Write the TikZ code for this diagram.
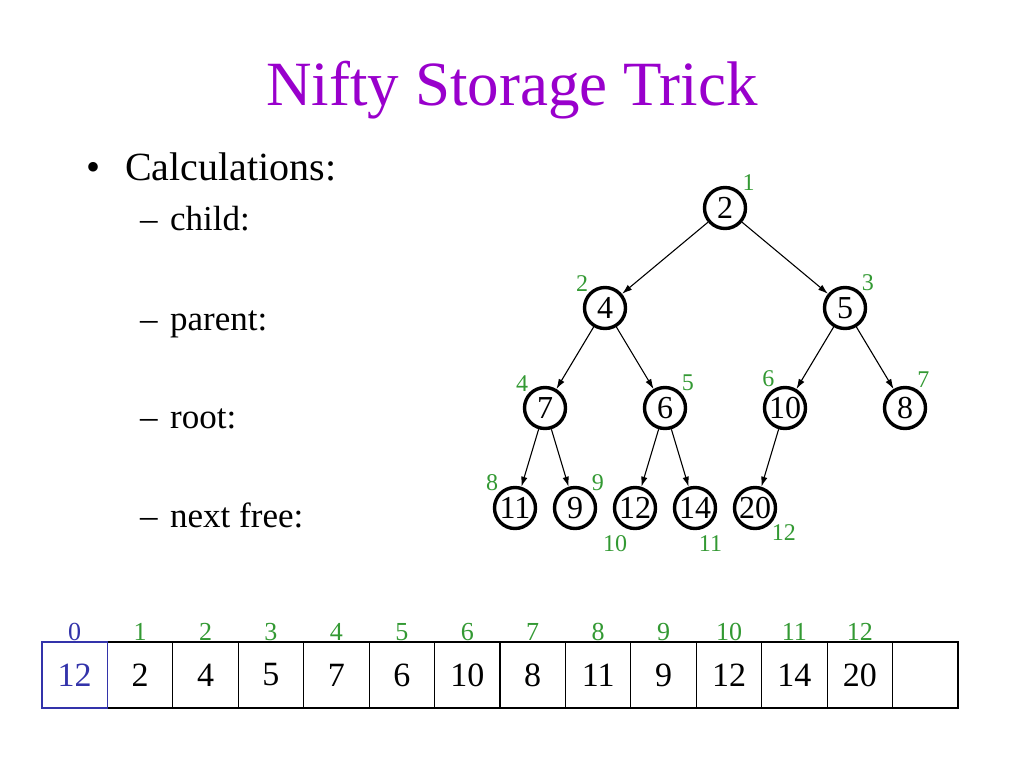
\documentclass[tikz,border=0pt]{standalone}
\usepackage{fontspec}
\setmainfont{Liberation Serif}
\usetikzlibrary{arrows.meta,positioning}
\definecolor{titlepurple}{RGB}{153,0,204}
\definecolor{idxgreen}{RGB}{51,153,51}
\definecolor{cellblue}{RGB}{51,51,170}

\begin{document}
\begin{tikzpicture}[x=1pt,y=1pt]
\useasboundingbox (0,0) rectangle (1024,-768);
\tikzstyle{heap}=[draw,shape=circle,line width=3.4pt,minimum size=41pt,inner sep=0pt,font=\fontsize{32}{32}\selectfont];
\tikzstyle{idx}=[text=idxgreen,font=\fontsize{24}{24}\selectfont,inner sep=1pt];
\tikzstyle{arridx}=[text=idxgreen,font=\fontsize{26}{26}\selectfont,inner sep=1pt];
\tikzstyle{cell}=[draw,line width=1.1pt,minimum width=65.43pt,minimum height=66pt,inner sep=0pt,font=\fontsize{34}{34}\selectfont];
\tikzstyle{lvlone}=[anchor=base west,inner sep=0pt,font=\fontsize{40}{40}\selectfont];
\tikzstyle{lvltwo}=[anchor=base west,inner sep=0pt,font=\fontsize{35}{35}\selectfont];

% title and bullets
\node[anchor=base,text=titlepurple,font=\fontsize{63}{63}\selectfont] (title) at (512,-105) {Nifty Storage Trick};
\node[lvlone] (b0) at (86,-180) {\textbullet};
\node[lvlone] (calc) at (125,-180) {Calculations:};
\node[lvltwo] (d1) at (140,-230) {--};
\node[lvltwo] (child) at (170,-230) {child:};
\node[lvltwo] (d2) at (140,-330) {--};
\node[lvltwo] (parent) at (170,-330) {parent:};
\node[lvltwo] (d3) at (140,-428) {--};
\node[lvltwo] (root) at (170,-428) {root:};
\node[lvltwo] (d4) at (140,-527) {--};
\node[lvltwo] (free) at (170,-527) {next free:};

% heap
\node[heap,label={[idx,label distance=1pt]45:1}] (n1) at (725,-208) {2}[level distance=100pt,sibling distance=240pt,
	edge from parent/.style={draw,line width=1.1pt,-{Latex[length=10pt,width=6.5pt]}}]
child {
	node[heap,label={[idx]above left:2}] (n2) {4}[sibling distance=120pt]
	child {
		node[heap,label={[idx]above left:4}] (n4) {7}[sibling distance=60pt]
		child {
			node[heap,label={[idx]above left:8}] (n8) {11}
		}
		child {
			node[heap,label={[idx]above right:9}] (n9) {9}
		}
	}
	child {
		node[heap,label={[idx]above right:5}] (n5) {6}[sibling distance=60pt]
		child {
			node[heap,label={[idx,label distance=5pt]-104:10}] (n10) {12}
		}
		child {
			node[heap,label={[idx,label distance=4pt]-84:11}] (n11) {14}
		}
	}
}
child {
	node[heap,label={[idx]above right:3}] (n3) {5}[sibling distance=120pt]
	child {
		node[heap,label={[idx]115:6}] (n6) {10}[sibling distance=60pt]
		child {
			node[heap,label={[idx]below right:12}] (n12) {20}
		}
		child[missing]
	}
	child {
		node[heap,label={[idx]60:7}] (n7) {8}
	}
};

% array
\foreach \v [count=\i] in {2,4,5,7,6,10,8,11,9,12,14,20,{}}
	\node[cell] (c\i) at ({42+65.43*\i+32.7},-675) {\v};
\node[cell,draw=cellblue,text=cellblue] (c0) at (74.7,-675) {12};
\node[arridx,text=cellblue,above=0pt of c0] (k0) {0};
\foreach \i in {1,...,12}
	\node[arridx,above=0pt of c\i] (k\i) {\i};
\end{tikzpicture}
\end{document}
